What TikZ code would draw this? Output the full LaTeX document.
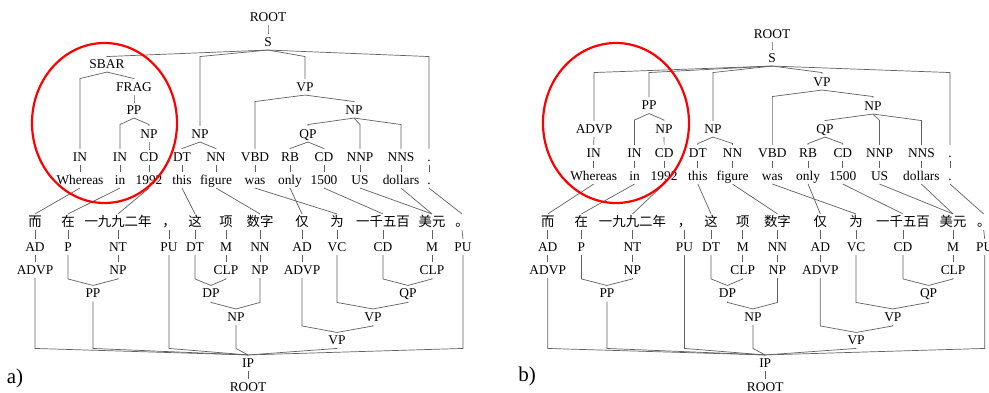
\documentclass[tikz,border=0pt]{standalone}
\usepackage{fontspec}
\setmainfont{Liberation Serif}
\newfontfamily\cjk{Noto Sans CJK SC}
\usetikzlibrary{calc}
\newcommand{\tf}{\fontsize{13.4pt}{15pt}\selectfont}
\newcommand{\PS}{1}
\newcommand{\PX}{0}
\newcommand{\EY}{0}
\newcommand{\XX}[1]{{\PS*(#1)+\PX}}
\newcommand{\YY}[1]{{(#1)+\EY}}
\tikzset{
  t/.style={inner xsep=1pt, inner ysep=3.5pt, text height=8.7pt, text depth=0pt, font=\tf},
  tc/.style={t, font=\tf\cjk},
  ln/.style={draw=black!62, line width=0.7pt},
  circ/.style={draw=red, line width=2.2pt},
  plabel/.style={inner sep=0pt, font=\fontsize{21pt}{23pt}\selectfont}
}
% fork from parent (above) down to child
\newcommand{\dn}[2]{\draw[ln] (#1.south) -- ($(#1.south -| #2.north)+(0,6.5)$) -- (#2.north);}
% fork from child (above) down to parent (below)
\newcommand{\up}[2]{\draw[ln] (#2.south) -- ($(#2.south |- #1.north)+(0,-6.5)$) -- (#1.north);}
\newcommand{\englishrows}[1]{%
  \node[t] (#1p1) at (\XX{80},\YY{157}) {IN};
  \node[t] (#1p2) at (\XX{120},\YY{157}) {IN};
  \node[t] (#1p3) at (\XX{149},\YY{157}) {CD};
  \node[t] (#1p4) at (\XX{182},\YY{157}) {DT};
  \node[t] (#1p5) at (\XX{216},\YY{157}) {NN};
  \node[t] (#1p6) at (\XX{255},\YY{157}) {VBD};
  \node[t] (#1p7) at (\XX{290},\YY{157}) {RB};
  \node[t] (#1p8) at (\XX{324},\YY{157}) {CD};
  \node[t] (#1p9) at (\XX{360},\YY{157}) {NNP};
  \node[t] (#1p10) at (\XX{401},\YY{157}) {NNS};
  \node[t] (#1p11) at (\XX{429},\YY{157}) {.};
  \node[t] (#1w1) at (\XX{80},\YY{180}) {Whereas};
  \node[t] (#1w2) at (\XX{120},\YY{180}) {in};
  \node[t] (#1w3) at (\XX{149},\YY{180}) {1992};
  \node[t] (#1w4) at (\XX{182},\YY{180}) {this};
  \node[t] (#1w5) at (\XX{216},\YY{180}) {figure};
  \node[t] (#1w6) at (\XX{255},\YY{180}) {was};
  \node[t] (#1w7) at (\XX{290},\YY{180}) {only};
  \node[t] (#1w8) at (\XX{324},\YY{180}) {1500};
  \node[t] (#1w9) at (\XX{360},\YY{180}) {US};
  \node[t] (#1w10) at (\XX{401},\YY{180}) {dollars};
  \node[t] (#1w11) at (\XX{429},\YY{180}) {.};
  \foreach \i in {1,...,11} {\draw[ln] (#1p\i.south) -- (#1w\i.north);}
}
\newcommand{\chinesetree}[1]{%
  \node[tc] (#1c1) at (\XX{35},222) {而};
  \node[tc] (#1c2) at (\XX{68},222) {在};
  \node[tc] (#1c3) at (\XX{118},222) {一九九二年};
  \node[tc] (#1c4) at (\XX{169},222) {，};
  \node[tc] (#1c5) at (\XX{195},222) {这};
  \node[tc] (#1c6) at (\XX{226},222) {项};
  \node[tc] (#1c7) at (\XX{260},222) {数字};
  \node[tc] (#1c8) at (\XX{302},222) {仅};
  \node[tc] (#1c9) at (\XX{337},222) {为};
  \node[tc] (#1c10) at (\XX{383},222) {一千五百};
  \node[tc] (#1c11) at (\XX{432},222) {美元};
  \node[tc, inner xsep=-3.5pt] (#1c12) at (\XX{462},222) {。};
  \node[t] (#1q1) at (\XX{35},247) {AD};
  \node[t] (#1q2) at (\XX{68},247) {P};
  \node[t] (#1q3) at (\XX{118},247) {NT};
  \node[t] (#1q4) at (\XX{169},247) {PU};
  \node[t] (#1q5) at (\XX{195},247) {DT};
  \node[t] (#1q6) at (\XX{226},247) {M};
  \node[t] (#1q7) at (\XX{260},247) {NN};
  \node[t] (#1q8) at (\XX{302},247) {AD};
  \node[t] (#1q9) at (\XX{337},247) {VC};
  \node[t] (#1q10) at (\XX{383},247) {CD};
  \node[t] (#1q11) at (\XX{432},247) {M};
  \node[t] (#1q12) at (\XX{463},247) {PU};
  \foreach \i in {1,...,12} {\draw[ln] (#1c\i.south) -- (#1q\i.north);}
  \node[t] (#1advpA) at (\XX{35},270) {ADVP};
  \node[t] (#1npNT) at (\XX{118},270) {NP};
  \node[t] (#1clpA) at (\XX{226},270) {CLP};
  \node[t] (#1npNN) at (\XX{260},270) {NP};
  \node[t] (#1advpB) at (\XX{302},270) {ADVP};
  \node[t] (#1clpB) at (\XX{432},270) {CLP};
  \draw[ln] (#1q1.south) -- (#1advpA.north);
  \draw[ln] (#1q3.south) -- (#1npNT.north);
  \draw[ln] (#1q6.south) -- (#1clpA.north);
  \draw[ln] (#1q7.south) -- (#1npNN.north);
  \draw[ln] (#1q8.south) -- (#1advpB.north);
  \draw[ln] (#1q11.south) -- (#1clpB.north);
  \node[t] (#1pp) at (\XX{93},293.5) {PP};
  \node[t] (#1dp) at (\XX{211},293.5) {DP};
  \node[t] (#1qp) at (\XX{408},293.5) {QP};
  \node[t] (#1np) at (\XX{236},317) {NP};
  \node[t] (#1vpA) at (\XX{373},317) {VP};
  \node[t] (#1vpB) at (\XX{337},340.5) {VP};
  \node[t] (#1ip) at (\XX{248},363) {IP};
  \node[t] (#1root) at (\XX{248},387) {ROOT};
  \up{#1pp}{#1q2} \up{#1pp}{#1npNT}
  \up{#1dp}{#1q5} \up{#1dp}{#1clpA}
  \up{#1qp}{#1q10} \up{#1qp}{#1clpB}
  \up{#1np}{#1dp} \up{#1np}{#1npNN}
  \up{#1vpA}{#1q9} \up{#1vpA}{#1qp}
  \up{#1vpB}{#1advpB} \up{#1vpB}{#1vpA}
  \up{#1ip}{#1advpA} \up{#1ip}{#1pp} \up{#1ip}{#1q4}
  \up{#1ip}{#1np} \up{#1ip}{#1vpB} \up{#1ip}{#1q12}
  \draw[ln] (#1ip.south) -- (#1root.north);
}
\newcommand{\alignlines}[1]{%
  \draw[ln] (#1w1.south) -- (#1c1.north);
  \draw[ln] (#1w2.south) -- (#1c2.north);
  \draw[ln] (#1w3.south) -- (#1c3.north);
  \draw[ln] (#1w4.south) -- (#1c5.north);
  \draw[ln] (#1w5.south) -- (#1c7.north);
  \draw[ln] (#1w6.south) -- (#1c9.north);
  \draw[ln] (#1w7.south) -- (#1c8.north);
  \draw[ln] (#1w8.south) -- (#1c10.north);
  \draw[ln] (#1w9.south) -- (#1c11.north);
  \draw[ln] (#1w10.south) -- (#1c11.north);
  \draw[ln] (#1w11.south) -- (#1c12.north);
}
\begin{document}
\begin{tikzpicture}[x=1pt,y=-1pt]
\useasboundingbox[fill=white] (0,0) rectangle (989,393);
% ---------------- panel a ----------------
\englishrows{a}
\chinesetree{a}
\alignlines{a}
\node[t] (aROOT) at (268,17) {ROOT};
\node[t] (aS) at (268,42) {S};
\node[t] (aSBAR) at (107,64) {SBAR};
\node[t] (aFRAG) at (134,87) {FRAG};
\node[t] (aPP) at (134,110) {PP};
\node[t] (aNPcd) at (149,134) {NP};
\node[t] (aNPtf) at (200,134) {NP};
\node[t] (aVP) at (305,87) {VP};
\node[t] (aNPup) at (354,110) {NP};
\node[t] (aQP) at (308,134) {QP};
\dn{aROOT}{aS}
\dn{aS}{aSBAR} \dn{aS}{aNPtf} \dn{aS}{aVP} \dn{aS}{ap11}
\dn{aSBAR}{ap1} \dn{aSBAR}{aFRAG}
\dn{aFRAG}{aPP}
\dn{aPP}{ap2} \dn{aPP}{aNPcd}
\dn{aNPcd}{ap3}
\dn{aNPtf}{ap4} \dn{aNPtf}{ap5}
\dn{aVP}{ap6} \dn{aVP}{aNPup}
\dn{aNPup}{aQP} \dn{aNPup}{ap9} \dn{aNPup}{ap10}
\dn{aQP}{ap7} \dn{aQP}{ap8}
\draw[circ] (104.5,123) ellipse [x radius=72.5, y radius=80];
\node[plabel] (alab) at (15,378) {a)};
% ---------------- panel b ----------------
\renewcommand{\PS}{1.021}
\renewcommand{\PX}{512}
\renewcommand{\EY}{-4}
\englishrows{b}
\chinesetree{b}
\alignlines{b}
\node[t] (bROOT) at (772,34) {ROOT};
\node[t] (bS) at (772,58) {S};
\node[t] (bADVP) at (594,129) {ADVP};
\node[t] (bPP) at (649,105.5) {PP};
\node[t] (bNPcd) at (664,129) {NP};
\node[t] (bNPtf) at (713,129) {NP};
\node[t] (bVP) at (822,82) {VP};
\node[t] (bNPup) at (873,106) {NP};
\node[t] (bQP) at (825,129) {QP};
\dn{bROOT}{bS}
\dn{bS}{bADVP} \dn{bS}{bPP} \dn{bS}{bNPtf} \dn{bS}{bVP} \dn{bS}{bp11}
\dn{bADVP}{bp1}
\dn{bPP}{bp2} \dn{bPP}{bNPcd}
\dn{bNPcd}{bp3}
\dn{bNPtf}{bp4} \dn{bNPtf}{bp5}
\dn{bVP}{bp6} \dn{bVP}{bNPup}
\dn{bNPup}{bQP} \dn{bNPup}{bp9} \dn{bNPup}{bp10}
\dn{bQP}{bp7} \dn{bQP}{bp8}
\draw[circ] (616,123) ellipse [x radius=73, y radius=80];
\node[plabel] (blab) at (527,376) {b)};
\end{tikzpicture}
\end{document}
